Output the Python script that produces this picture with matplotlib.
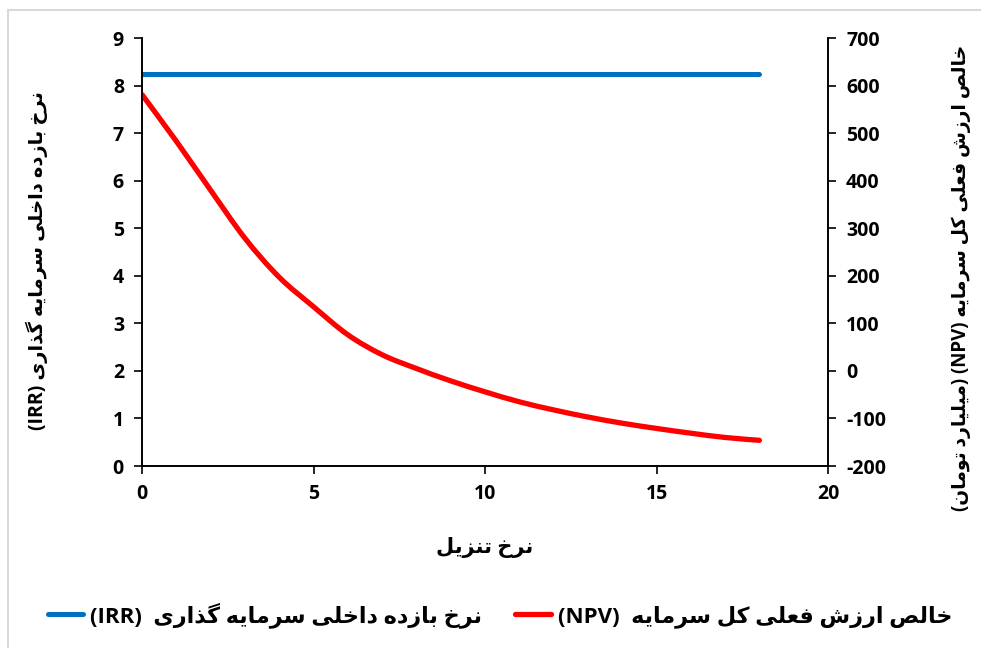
import matplotlib
matplotlib.use("Agg")
import matplotlib.pyplot as plt
from matplotlib.patches import Rectangle, PathPatch
from matplotlib.path import Path

# discount rate (%) and results
rate = [0, 1, 2, 3, 4, 5, 6, 7, 8, 9, 10, 11, 12, 13, 14, 15, 16, 17, 18]
irr = [8.24] * len(rate)
npv = [581, 483, 380, 279, 197, 135, 76, 34, 5, -21, -44, -65, -82, -97,
       -110, -121, -131, -140, -146]

# contextual forms: isolated, final, initial, medial (None = right-joining only)
FORMS = {
    'ا': ('\uFE8D', '\uFE8E', None, None),
    'ب': ('\uFE8F', '\uFE90', '\uFE91', '\uFE92'),
    'ت': ('\uFE95', '\uFE96', '\uFE97', '\uFE98'),
    'خ': ('\uFEA5', '\uFEA6', '\uFEA7', '\uFEA8'),
    'د': ('\uFEA9', '\uFEAA', None, None),
    'ذ': ('\uFEAB', '\uFEAC', None, None),
    'ر': ('\uFEAD', '\uFEAE', None, None),
    'ز': ('\uFEAF', '\uFEB0', None, None),
    'س': ('\uFEB1', '\uFEB2', '\uFEB3', '\uFEB4'),
    'ش': ('\uFEB5', '\uFEB6', '\uFEB7', '\uFEB8'),
    'ص': ('\uFEB9', '\uFEBA', '\uFEBB', '\uFEBC'),
    'ع': ('\uFEC9', '\uFECA', '\uFECB', '\uFECC'),
    'ف': ('\uFED1', '\uFED2', '\uFED3', '\uFED4'),
    'ل': ('\uFEDD', '\uFEDE', '\uFEDF', '\uFEE0'),
    'م': ('\uFEE1', '\uFEE2', '\uFEE3', '\uFEE4'),
    'ن': ('\uFEE5', '\uFEE6', '\uFEE7', '\uFEE8'),
    'ه': ('\uFEE9', '\uFEEA', '\uFEEB', '\uFEEC'),
    'و': ('\uFEED', '\uFEEE', None, None),
    'ی': ('\uFBFC', '\uFBFD', '\uFBFE', '\uFBFF'),
    'ک': ('\uFB8E', '\uFB8F', '\uFB90', '\uFB91'),
    'گ': ('\uFB92', '\uFB93', '\uFB94', '\uFB95'),
}


def fa(text):
    """Shape Persian letters and reverse for left-to-right drawing."""
    out = []
    for i, ch in enumerate(text):
        if ch not in FORMS:
            out.append(ch)
            continue
        prev = text[i - 1] if i > 0 else ''
        nxt = text[i + 1] if i + 1 < len(text) else ''
        joins_prev = prev in FORMS and FORMS[prev][2] is not None
        joins_next = nxt in FORMS and FORMS[ch][2] is not None
        iso, fin, ini, med = FORMS[ch]
        if joins_prev and joins_next:
            out.append(med)
        elif joins_prev:
            out.append(fin)
        elif joins_next:
            out.append(ini)
        else:
            out.append(iso)
    return ''.join(out)[::-1]


def smooth_path(xs, ys):
    """Catmull-Rom style cubic Bezier through the points (spreadsheet smoothing)."""
    verts = [(xs[0], ys[0])]
    codes = [Path.MOVETO]
    n = len(xs)
    for i in range(n - 1):
        x0, y0 = (xs[i - 1], ys[i - 1]) if i > 0 else (xs[i], ys[i])
        x1, y1 = xs[i], ys[i]
        x2, y2 = xs[i + 1], ys[i + 1]
        x3, y3 = (xs[i + 2], ys[i + 2]) if i + 2 < n else (x2, y2)
        c1 = (x1 + (x2 - x0) / 6, y1 + (y2 - y0) / 6)
        c2 = (x2 - (x3 - x1) / 6, y2 - (y3 - y1) / 6)
        verts += [c1, c2, (x2, y2)]
        codes += [Path.CURVE4] * 3
    return Path(verts, codes)


fonts = ['Open Sans', 'DejaVu Sans']
plt.rcParams['font.family'] = fonts
plt.rcParams['font.weight'] = 'bold'
plt.rcParams['axes.unicode_minus'] = False

x_label = fa('نرخ تنزیل')
irr_label = '(IRR) ' + fa('نرخ بازده داخلی سرمایه گذاری')
npv_label = '(' + fa('میلیارد تومان') + ') (NPV) ' + fa('خالص ارزش فعلی کل سرمایه')
irr_legend = '(IRR)  ' + fa('نرخ بازده داخلی سرمایه گذاری')
npv_legend = '(NPV)  ' + fa('خالص ارزش فعلی کل سرمایه')

fig = plt.figure(figsize=(9.81, 6.48), dpi=100)
ax = fig.add_axes([142 / 981, 1 - 466 / 648, 686 / 981, 428 / 648])
ax2 = ax.twinx()

l1, = ax.plot(rate, irr, color='#0070C0', lw=3.6, solid_capstyle='round')
# NPV drawn as a smoothed curve; empty line kept for the legend handle
l2, = ax2.plot([], [], color='#FF0000', lw=3.8, solid_capstyle='round')
ax2.add_patch(PathPatch(smooth_path(rate, npv), facecolor='none',
                        edgecolor='#FF0000', lw=3.8, capstyle='round'))

ax.set_xlim(0, 20)
ax.set_ylim(0, 9)
ax2.set_ylim(-200, 700)
ax.set_xticks(range(0, 21, 5))
ax.set_yticks(range(0, 10))
ax2.set_yticks(range(-200, 701, 100))

for a in (ax, ax2):
    a.spines['top'].set_visible(False)
    for s in ('left', 'right', 'bottom'):
        a.spines[s].set_linewidth(1.2)
    a.tick_params(labelsize=14, width=1.2, length=6, pad=7)
    for t in a.get_xticklabels() + a.get_yticklabels():
        t.set_fontweight('bold')

ax.set_xlabel(x_label, fontsize=15, fontweight='bold', labelpad=24)
ax.set_ylabel(irr_label, fontsize=14, fontweight='bold')
ax.yaxis.set_label_coords(-0.137, 0.48)
ax2.set_ylabel(npv_label, fontsize=13.5, fontweight='bold', rotation=90)
ax2.yaxis.set_label_coords(1.18, 0.44)

fig.legend([l1, l2], [irr_legend, npv_legend], loc='center',
           bbox_to_anchor=(500 / 981, 1 - 615 / 648), ncol=2, frameon=False,
           handlelength=1.6, handletextpad=0.3, columnspacing=1.5,
           prop={'size': 16, 'weight': 'bold', 'family': fonts})

# light chart-area border
fig.add_artist(Rectangle((8 / 981, -0.1), 1.2, 1.1 - 10 / 648,
                         transform=fig.transFigure, fill=False,
                         edgecolor='#D9D9D9', lw=1.5, clip_on=False))

fig.savefig('out.png', dpi=100)
